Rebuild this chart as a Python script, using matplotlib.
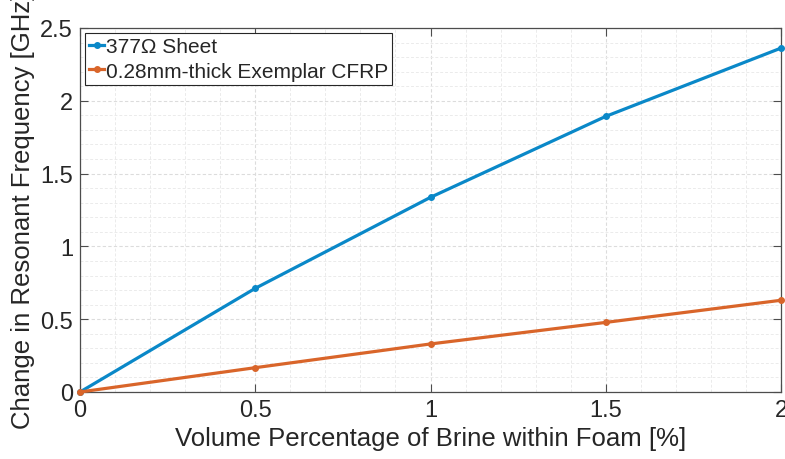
import matplotlib
matplotlib.use("Agg")
import matplotlib.pyplot as plt
from matplotlib.ticker import MultipleLocator

# data
brine_pct = [0, 0.5, 1.0, 1.5, 2.0]
sheet_377 = [0, 0.712, 1.337, 1.893, 2.362]
cfrp_028 = [0, 0.167, 0.330, 0.478, 0.630]
series_labels = ["377\u03a9 Sheet", "0.28mm-thick Exemplar CFRP"]
x_ticks = [0, 0.5, 1, 1.5, 2]
x_ticklabels = ['0', '0.5', '1', '1.5', '2']
y_ticks = [0, 0.5, 1, 1.5, 2, 2.5]
y_ticklabels = ['0', '0.5', '1', '1.5', '2', '2.5']

plt.rcParams['font.family'] = ['Liberation Sans', 'DejaVu Sans']
text_col = '#262626'

fig = plt.figure(figsize=(7.85, 4.6), dpi=100)
ax = fig.add_axes([80 / 785, 1 - 393 / 460, 701 / 785, 364 / 460])

ax.plot(brine_pct, sheet_377, color='#0a88c8', lw=2.3, marker='o', ms=4,
        label=series_labels[0], clip_on=False, zorder=3)
ax.plot(brine_pct, cfrp_028, color='#d9652a', lw=2.3, marker='o', ms=4,
        label=series_labels[1], clip_on=False, zorder=3)

ax.set_xlim(0, 2)
ax.set_ylim(0, 2.5)
ax.set_xticks(x_ticks)
ax.set_xticklabels(x_ticklabels)
ax.set_yticks(y_ticks)
ax.set_yticklabels(y_ticklabels)
ax.xaxis.set_minor_locator(MultipleLocator(0.1))
ax.yaxis.set_minor_locator(MultipleLocator(0.1))

# MATLAB-style grid: light dashed major + fainter minor
ax.grid(True, which='major', color='#dcdcdc', lw=0.8, ls=(0, (3, 2)))
ax.grid(True, which='minor', color='#ebebeb', lw=0.7, ls=(0, (3, 2)))
ax.set_axisbelow(True)

ax.tick_params(which='major', direction='in', length=6, width=0.8,
               top=True, right=True, labelsize=17, colors='#4d4d4d',
               labelcolor=text_col, pad=5)
ax.tick_params(which='minor', length=0, top=True, right=True)
for s in ax.spines.values():
    s.set_color('#4d4d4d')
    s.set_linewidth(0.9)

ax.set_xlabel("Volume Percentage of Brine within Foam [%]", fontsize=18.5,
              color=text_col, labelpad=4)
ax.set_ylabel("Change in Resonant Frequency [GHz]", fontsize=18.5,
              color=text_col, labelpad=4)

leg = ax.legend(loc='upper left', fontsize=15, frameon=True, fancybox=False,
                handlelength=0.7, handletextpad=0.1, borderpad=0.2,
                labelspacing=0.25, borderaxespad=0.25, framealpha=1)
leg.get_frame().set_edgecolor('#262626')
leg.get_frame().set_linewidth(0.8)
for t in leg.get_texts():
    t.set_color(text_col)

fig.savefig("out.png", dpi=100)
